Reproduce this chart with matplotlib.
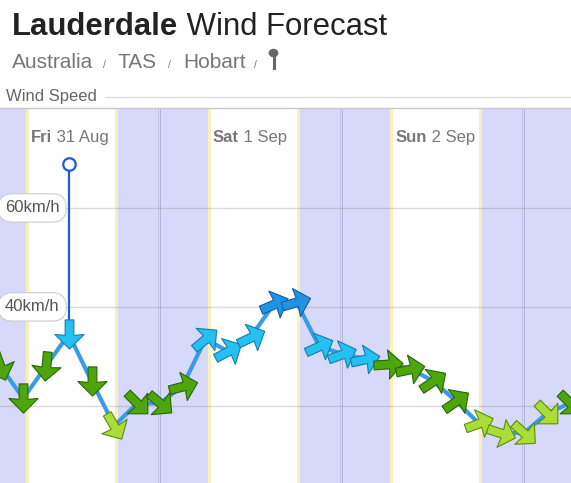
import matplotlib
matplotlib.use("Agg")
import matplotlib.pyplot as plt
import numpy as np
from matplotlib.path import Path
from matplotlib.markers import MarkerStyle
from matplotlib.transforms import Affine2D
from matplotlib.lines import Line2D
from matplotlib.patches import Circle

plt.rcParams['font.family'] = ['Liberation Sans', 'DejaVu Sans']

# data: hours since Fri 00:00, 3-hourly forecast
hours = np.arange(3, 79, 3)
speed = [28, 21.5, 28, 34.5, 25, 16, 20.5, 20.5, 24, 33.5, 31, 34, 40.5, 41,
         32, 30.5, 29.5, 28.5, 27.5, 25, 21, 16.5, 14.5, 14.5, 18.5, 20.5]
# direction the wind comes from (deg)
direction = [340, 0, 5, 0, 0, 330, 315, 310, 255, 230, 242, 245, 247, 254,
             246, 250, 258, 266, 258, 236, 235, 250, 288, 312, 315, 315]

days = ["Fri", "Sat", "Sun"]
dates = ["31 Aug", "1 Sep", "2 Sep"]
sunrise = [6.3, 30.3, 54.3, 78.3]
sunset = [18.45, 42.45, 66.45]
midnights = [24, 48, 72]
grid_vals = [20, 40, 60]
ylab_vals = [60, 40]
ylab_text = ["60km/h", "40km/h"]
now_hour = 12

def speed_colour(v):
    if v < 20:
        return '#a8de35', '#5e8c12'
    if v < 29:
        return '#4ca60c', '#2b6606'
    if v < 40:
        return '#25bff0', '#1380ad'
    return '#2192e4', '#0f5ea3'

fig = plt.figure(figsize=(5.71, 4.83), dpi=100)
W, H = 571., 483.

def fx(px): return px / W
def fy(py): return 1 - py / H

# header
t = fig.text(fx(12), fy(35), "Lauderdale", fontsize=22.4, fontweight='bold',
             color='#222222', va='baseline')
fig.canvas.draw()
tb = t.get_window_extent()
fig.text(tb.x1 / W, fy(35), " Wind Forecast", fontsize=22.4, color='#222222', va='baseline')

sub_grey = '#777777'
fig.text(fx(12), fy(68), "Australia", fontsize=15, color=sub_grey, va='baseline')
fig.text(fx(103), fy(68), "/", fontsize=7.5, color=sub_grey, va='baseline')
fig.text(fx(117), fy(68), "TAS", fontsize=15, color=sub_grey, va='baseline')
fig.text(fx(168), fy(68), "/", fontsize=7.5, color=sub_grey, va='baseline')
fig.text(fx(183), fy(68), "Hobart", fontsize=15, color=sub_grey, va='baseline')
fig.text(fx(254), fy(68), "/", fontsize=7.5, color=sub_grey, va='baseline')
# map pin icon
fig.add_artist(Line2D([fx(273.5), fx(273.5)], [fy(54), fy(68)], color='#666666', lw=2.2))
fig.add_artist(Circle((fx(273.5), fy(53)), radius=4.2 / W, color='#666666',
                      transform=fig.transFigure))

fig.text(fx(6), fy(101), "Wind Speed", fontsize=12, color='#666666', va='baseline')
fig.add_artist(Line2D([fx(105), 1], [fy(97), fy(97)], color='#dddddd', lw=1))

# chart
ax = fig.add_axes([0, 0, 1, 375 / H])
ax.set_xlim(2.94, 78.17)
ax.set_ylim(4.4, 80.2)
ax.set_xticks([])
ax.set_yticks([])
for s in ['left', 'right', 'bottom']:
    ax.spines[s].set_visible(False)
ax.spines['top'].set_color('#c8c8d4')
ax.spines['top'].set_linewidth(1)

night_start = [-10] + sunset
night_end = sunrise
for a, b in zip(night_start, night_end):
    ax.axvspan(a, b, color='#d7d9fb', lw=0, zorder=0)
for sr in sunrise:
    ax.axvspan(sr, sr + 0.4, color='#fbf0b6', lw=0, zorder=0)
for ss in sunset:
    ax.axvspan(ss - 0.4, ss, color='#fbf0b6', lw=0, zorder=0)
for m in midnights:
    ax.axvline(m - 0.3, color='#c0c2e4', lw=0.7, zorder=1)
    ax.axvline(m, color='#b0b2d8', lw=0.7, zorder=1)
for g in grid_vals:
    ax.axhline(g, color='#888888', alpha=0.3, lw=1, zorder=1)

for v, s in zip(ylab_vals, ylab_text):
    ax.text(5 / W, v, s, transform=ax.get_yaxis_transform(), fontsize=12,
            color='#555555', va='center', ha='left', zorder=6,
            bbox=dict(boxstyle='round,pad=0.4,rounding_size=0.85', fc='white',
                      ec='#cccccc', lw=0.8))

fig.canvas.draw()
for sr, d, dt in zip(sunrise, days, dates):
    tb_ = ax.text(sr + 0.7, 73.3, d, fontsize=12, fontweight='bold',
                  color='#777777', va='baseline', ha='left', zorder=6)
    ax.annotate(" " + dt, xy=(1, 0), xycoords=tb_, fontsize=12, color='#777777',
                va='bottom', ha='left', zorder=6)

# now marker
now_speed = speed[list(hours).index(now_hour)]
ax.plot([now_hour, now_hour], [68.8, now_speed], color='#1f5bd1', lw=1.6, zorder=3)
ax.plot([now_hour], [68.8], 'o', ms=9, mfc='white', mec='#1f5bd1', mew=1.6, zorder=4)

ax.plot(hours, speed, color='#3a9ae8', lw=3, zorder=3, solid_joinstyle='round')

arrow = Path([(0, 0.5), (0.5, 0.0), (0.15, 0.03), (0.15, -0.5), (-0.15, -0.5),
              (-0.15, 0.03), (-0.5, 0.0), (0, 0.5)],
             [Path.MOVETO] + [Path.LINETO] * 6 + [Path.CLOSEPOLY])
for h, v, d in zip(hours, speed, direction):
    pointing = (d + 180) % 360
    m = MarkerStyle(arrow, transform=Affine2D().rotate_deg(-pointing))
    fc, ec = speed_colour(v)
    ax.plot([h], [v], marker=m, ms=21, mfc=fc, mec=ec, mew=0.8, ls='none', zorder=5)

fig.savefig("out.png", dpi=100)
